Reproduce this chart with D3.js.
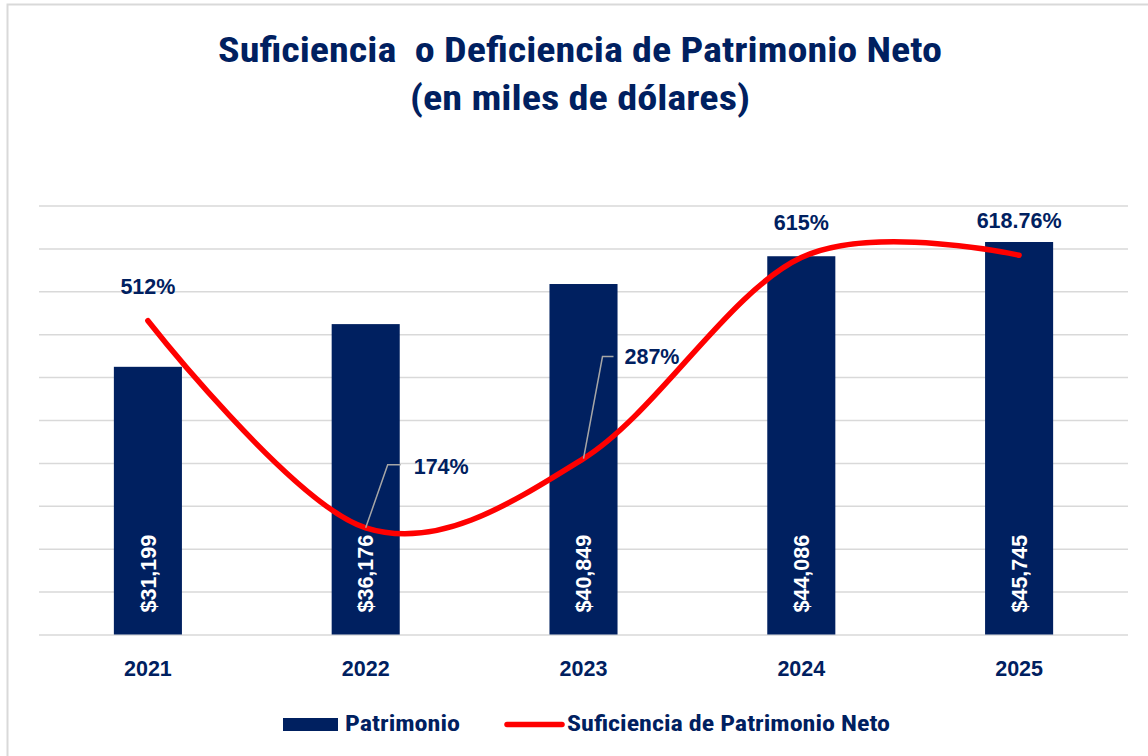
<!DOCTYPE html>
<html>
<head>
<meta charset="utf-8">
<script src="https://cdn.jsdelivr.net/npm/d3@7/dist/d3.min.js"></script>
<style>
  body { margin: 0; background: #fff; }
  svg { display: block; }
</style>
</head>
<body>
<div id="chart"></div>
<script>
// chart data
const years = ["2021", "2022", "2023", "2024", "2025"];
const patrimonio = [31199, 36176, 40849, 44086, 45745];
const suficiencia = [512, 174, 287, 615, 618.76];
const suficienciaLabels = ["512%", "174%", "287%", "615%", "618.76%"];
const gridValues = [0, 5000, 10000, 15000, 20000, 25000, 30000, 35000, 40000, 45000, 50000];
const titleLines = ["Suficiencia  o Deficiencia de Patrimonio Neto", "(en miles de dólares)"];
const legendNames = ["Patrimonio", "Suficiencia de Patrimonio Neto"];

const width = 1148, height = 756;
const navy = "#002060";
const condensed = "'Liberation Sans Narrow', 'Roboto Condensed', Roboto, sans-serif";
const arial = "'Liberation Sans', Arial, sans-serif";

let svg = d3.select("#chart")
    .append("svg")
    .attr("width", width)
    .attr("height", height);

svg.append("rect")
    .attr("width", width)
    .attr("height", height)
    .attr("fill", "#fff");

// chart border
svg.append("rect")
    .attr("x", 7.5)
    .attr("y", 4.5)
    .attr("width", 1200)
    .attr("height", 800)
    .attr("fill", "none")
    .attr("stroke", "#d9d9d9")
    .attr("stroke-width", 2);

// title
svg.selectAll(".title")
    .data(titleLines)
    .enter()
    .append("text")
    .attr("class", "title")
    .attr("x", 580)
    .attr("y", (d, i) => i == 0 ? 62 : 110)
    .attr("text-anchor", "middle")
    .attr("textLength", (d, i) => i == 0 ? 724 : 340)
    .attr("lengthAdjust", "spacingAndGlyphs")
    .style("white-space", "pre")
    .style("font-family", condensed)
    .style("font-weight", "bold")
    .style("font-size", "35px")
    .style("fill", navy)
    .text(d => d);

// scales
let x = d3.scaleBand()
    .domain(years)
    .range([39, 1128])
    .paddingInner(0.6875)
    .paddingOuter(0.34375);

let y = d3.scaleLinear()
    .domain([0, 50000])
    .range([634.5, 205.5]);

let y2 = d3.scaleLinear()
    .domain([0, 700])
    .range([634.5, 205.5]);

let cx = d => x(d) + x.bandwidth() / 2;

// gridlines
let grid = d3.axisLeft(y)
    .tickValues(gridValues)
    .tickSize(-(1128 - 39))
    .tickFormat("");

svg.append("g")
    .attr("class", "grid")
    .attr("transform", "translate(39,0)")
    .call(grid)
    .call(g => g.select(".domain").remove())
    .call(g => g.selectAll("line").attr("stroke", "#d9d9d9").attr("stroke-width", 1.5));

// bars
svg.selectAll(".bar")
    .data(patrimonio)
    .enter()
    .append("rect")
    .attr("class", "bar")
    .attr("x", (d, i) => x(years[i]))
    .attr("y", d => y(d))
    .attr("width", x.bandwidth())
    .attr("height", d => y(0) - y(d))
    .attr("fill", navy);

// bar labels, inside base
svg.selectAll(".barLabel")
    .data(patrimonio)
    .enter()
    .append("text")
    .attr("class", "barLabel")
    .attr("transform", (d, i) => "translate(" + cx(years[i]) + "," + (y(0) - 22) + ") rotate(-90)")
    .attr("dy", "0.36em")
    .style("font-family", arial)
    .style("font-weight", "bold")
    .style("font-size", "21.5px")
    .style("fill", "#fff")
    .text(d => "$" + d3.format(",")(d));

// x axis labels
let xAxis = d3.axisBottom(x).tickSize(0).tickPadding(0);

svg.append("g")
    .attr("class", "x axis")
    .call(xAxis)
    .call(g => g.select(".domain").remove())
    .call(g => g.selectAll("text")
        .attr("y", 676)
        .attr("dy", null)
        .style("font-family", arial)
        .style("font-weight", "bold")
        .style("font-size", "21.5px")
        .style("fill", navy));

// smoothed line
let line = d3.line()
    .x((d, i) => cx(years[i]))
    .y(d => y2(d))
    .curve(d3.curveCardinal.tension(0));

svg.append("path")
    .datum(suficiencia)
    .attr("class", "line")
    .attr("d", line)
    .attr("fill", "none")
    .attr("stroke", "#ff0000")
    .attr("stroke-width", 5.5)
    .attr("stroke-linecap", "round")
    .attr("stroke-linejoin", "round");

// label placement for the line values (leader lines on 2022 and 2023)
const labelOffsets = [
    { dx: 0, dy: -34, anchor: "middle" },
    { dx: 48, dy: -62, anchor: "start", leader: [[22, -63], [35, -63]] },
    { dx: 41, dy: -102, anchor: "start", leader: [[19, -102], [30, -102]] },
    { dx: 0, dy: -35, anchor: "middle" },
    { dx: 0, dy: -35, anchor: "middle" }
];

suficiencia.forEach((v, i) => {
    let px = cx(years[i]), py = y2(v);
    let o = labelOffsets[i];
    if (o.leader) {
        let pts = [[px, py]].concat(o.leader.map(p => [px + p[0], py + p[1]]));
        svg.append("path")
            .attr("d", d3.line()(pts))
            .attr("fill", "none")
            .attr("stroke", "#a6a6a6")
            .attr("stroke-width", 1.5);
    }
    svg.append("text")
        .attr("x", px + o.dx)
        .attr("y", py + o.dy)
        .attr("dy", "0.36em")
        .attr("text-anchor", o.anchor)
        .style("font-family", arial)
        .style("font-weight", "bold")
        .style("font-size", "21.5px")
        .style("fill", navy)
        .text(suficienciaLabels[i]);
});

// legend
let legend = svg.append("g").attr("class", "legend");

legend.append("rect")
    .attr("x", 283)
    .attr("y", 718)
    .attr("width", 55)
    .attr("height", 13)
    .attr("fill", navy);

legend.append("text")
    .attr("x", 345)
    .attr("y", 731)
    .attr("textLength", 115)
    .attr("lengthAdjust", "spacingAndGlyphs")
    .style("font-family", condensed)
    .style("font-weight", "bold")
    .style("font-size", "22px")
    .style("fill", navy)
    .text(legendNames[0]);

legend.append("line")
    .attr("x1", 507)
    .attr("x2", 562)
    .attr("y1", 724.5)
    .attr("y2", 724.5)
    .attr("stroke", "#ff0000")
    .attr("stroke-width", 5.5)
    .attr("stroke-linecap", "round");

legend.append("text")
    .attr("x", 567)
    .attr("y", 731)
    .attr("textLength", 323)
    .attr("lengthAdjust", "spacingAndGlyphs")
    .style("font-family", condensed)
    .style("font-weight", "bold")
    .style("font-size", "22px")
    .style("fill", navy)
    .text(legendNames[1]);
</script>
</body>
</html>
